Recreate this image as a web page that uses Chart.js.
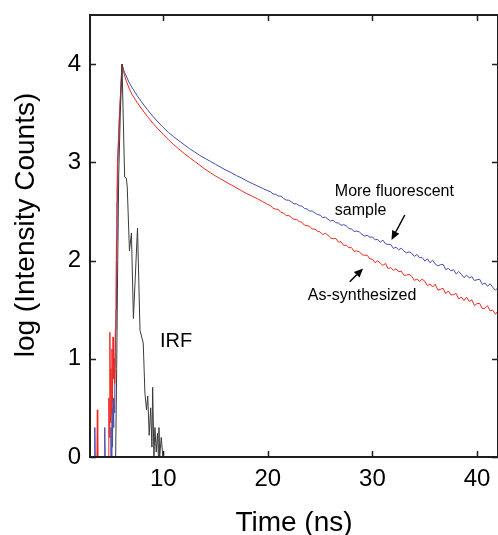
<!DOCTYPE html>
<html>
<head>
<meta charset="utf-8">
<script src="https://cdn.jsdelivr.net/npm/chart.js@4.4.1/dist/chart.umd.min.js"></script>
<style>
  html, body { margin: 0; padding: 0; background: #fff; }
  #wrap { width: 498px; height: 535px; }
</style>
</head>
<body>
<div id="wrap"><canvas id="chart" width="498" height="535"></canvas></div>
<script>
// rising edge (ns / log counts), noisy single-photon spikes before the pulse
const riseTimeBlue = [3.0, 3.42, 3.46, 3.50, 4.37, 4.41, 4.45, 4.96, 5.00, 5.04, 5.10, 5.15, 5.20, 5.25, 5.29, 5.33, 5.37, 5.43, 5.49, 5.54, 5.59, 5.64, 5.80]
const riseBlue = [0, 0, 0.3, 0, 0, 0.3, 0, 0, 0.3, 0, 0.5, 0.1, 0.6, 0.3, 0.6, 0.45, 0.7, 1.1, 1.5, 2.0, 2.6, 2.95, 3.42]
const riseTimeRed = [3.0, 3.66, 3.70, 3.74, 4.76, 4.80, 4.84, 4.90, 4.95, 5.00, 5.05, 5.10, 5.15, 5.20, 5.25, 5.30, 5.35, 5.42, 5.48, 5.53, 5.58, 5.63, 5.80]
const riseRed = [0, 0, 0.48, 0, 0, 0.6, 0.2, 1.27, 0.35, 0.9, 0.45, 1.1, 0.55, 1.22, 0.8, 1.0, 0.75, 1.3, 1.65, 2.2, 2.7, 3.0, 3.45]

// decay, peak to 20 ns
const decayTime = [6.06, 6.25, 6.5, 6.75, 7, 7.5, 8, 8.5, 9, 9.5, 10, 10.5, 11, 11.5, 12, 12.5, 13, 13.5, 14, 14.5, 15, 15.5, 16, 16.5, 17, 17.5, 18, 18.5, 19, 19.5, 20]
const decayBlue = [4.00, 3.93, 3.87, 3.81, 3.765, 3.68, 3.605, 3.535, 3.47, 3.41, 3.355, 3.305, 3.26, 3.22, 3.18, 3.14, 3.105, 3.07, 3.04, 3.01, 2.98, 2.95, 2.92, 2.895, 2.865, 2.84, 2.81, 2.785, 2.76, 2.735, 2.71]
const decayRed = [4.00, 3.90, 3.82, 3.75, 3.695, 3.61, 3.535, 3.465, 3.40, 3.34, 3.285, 3.23, 3.18, 3.135, 3.09, 3.05, 3.01, 2.97, 2.93, 2.895, 2.86, 2.83, 2.80, 2.77, 2.74, 2.71, 2.68, 2.655, 2.63, 2.60, 2.57]

// tail, one channel every 0.25 ns from 20.25 ns to 42 ns
const tailStart = 20.25
const tailStep = 0.25
const tailBlue = [
    2.702, 2.678, 2.674, 2.657, 2.656, 2.633, 2.616, 2.614, 2.598, 2.577, 2.578,
    2.558, 2.555, 2.530, 2.525, 2.504, 2.504, 2.485, 2.468, 2.463, 2.437, 2.442,
    2.421, 2.402, 2.412, 2.385, 2.382, 2.360, 2.364, 2.356, 2.325, 2.321, 2.296,
    2.300, 2.291, 2.266, 2.249, 2.257, 2.238, 2.240, 2.211, 2.215, 2.186, 2.208,
    2.170, 2.165, 2.163, 2.124, 2.135, 2.109, 2.126, 2.098, 2.077, 2.089, 2.074,
    2.042, 2.062, 2.030, 2.030, 1.996, 2.017, 1.978, 2.004, 1.965, 1.946, 1.957,
    1.962, 1.908, 1.920, 1.895, 1.907, 1.863, 1.889, 1.860, 1.826, 1.852, 1.823,
    1.837, 1.796, 1.805, 1.809, 1.756, 1.772, 1.738, 1.764, 1.728, 1.698, 1.724
]
const tailRed = [
    2.561, 2.531, 2.524, 2.520, 2.490, 2.484, 2.457, 2.459, 2.440, 2.419, 2.420,
    2.397, 2.390, 2.360, 2.355, 2.348, 2.321, 2.321, 2.299, 2.291, 2.264, 2.279,
    2.257, 2.231, 2.222, 2.225, 2.188, 2.191, 2.153, 2.156, 2.131, 2.132, 2.093,
    2.098, 2.090, 2.060, 2.054, 2.054, 2.016, 2.015, 1.978, 1.998, 1.973, 1.951,
    1.970, 1.917, 1.929, 1.899, 1.918, 1.886, 1.893, 1.850, 1.851, 1.860, 1.841,
    1.798, 1.812, 1.787, 1.810, 1.791, 1.744, 1.761, 1.731, 1.760, 1.699, 1.707,
    1.718, 1.663, 1.690, 1.650, 1.653, 1.664, 1.609, 1.629, 1.592, 1.627, 1.584,
    1.601, 1.540, 1.563, 1.563, 1.511, 1.514, 1.540, 1.488, 1.496, 1.453, 1.488
]

// instrument response function
const irfTime = [5.45, 5.55, 5.65, 5.75, 5.9, 6.06, 6.31, 6.47, 6.56, 6.77, 6.96, 7.15, 7.54, 7.78, 8.09, 8.25, 8.40, 8.52, 8.66, 8.80, 8.92, 8.99, 9.11, 9.21, 9.33, 9.45, 9.54, 9.59, 9.66, 9.81, 9.97]
const irfCounts = [0, 0.9, 2.0, 2.9, 3.5, 4.0, 2.85, 2.84, 2.75, 2.10, 2.28, 1.41, 2.33, 1.29, 1.16, 0.65, 0.48, 0.62, 0.22, 0.50, 0.10, 0.71, 0, 0.30, 0.05, 0.24, 0, 0.30, 0, 0.20, 0]

const xTicks = [10, 20, 30, 40]
const yTicks = [0, 1, 2, 3, 4]

const FONT = '"Liberation Sans", Arial, Helvetica, sans-serif'

function toPoints(xs, ys) {
    return xs.map((x, i) => ({ x: x, y: ys[i] }))
}

const tailTime = tailBlue.map((_, i) => tailStart + tailStep * i)

const bluePoints = [].concat(toPoints(riseTimeBlue, riseBlue), toPoints(decayTime, decayBlue), toPoints(tailTime, tailBlue))
const redPoints = [].concat(toPoints(riseTimeRed, riseRed), toPoints(decayTime, decayRed), toPoints(tailTime, tailRed))
const irfPoints = toPoints(irfTime, irfCounts)

// text labels and arrows, in data units
const notes = [
    { text: 'More fluorescent', x: 26.4, y: 2.66, size: 16 },
    { text: 'sample', x: 26.4, y: 2.465, size: 16 },
    { text: 'As-synthesized', x: 23.82, y: 1.60, size: 16 },
    { text: 'IRF', x: 9.69, y: 1.124, size: 20 }
]
const arrows = [
    { from: [33.09, 2.464], to: [31.82, 2.21] },
    { from: [27.83, 1.785], to: [29.10, 1.92] }
]

// frame, inward ticks, axis titles and the annotations
const framePlugin = {
    id: 'framePlugin',
    afterDraw(chart) {
        const { ctx, chartArea: a, scales } = chart
        const xs = scales.x, ys = scales.y
        ctx.save()
        ctx.strokeStyle = '#1e1e1e'
        ctx.lineWidth = 2
        ctx.strokeRect(a.left, a.top, a.right - a.left, a.bottom - a.top)

        ctx.lineWidth = 1.5
        ctx.beginPath()
        xTicks.forEach(v => {
            const px = Math.round(xs.getPixelForValue(v)) + 0.5
            ctx.moveTo(px, a.bottom); ctx.lineTo(px, a.bottom - 6)
            ctx.moveTo(px, a.top); ctx.lineTo(px, a.top + 6)
        })
        yTicks.forEach(v => {
            const py = Math.round(ys.getPixelForValue(v)) + 0.5
            ctx.moveTo(a.left, py); ctx.lineTo(a.left + 6, py)
            ctx.moveTo(a.right, py); ctx.lineTo(a.right - 6, py)
        })
        ctx.stroke()

        // axis titles
        ctx.fillStyle = '#000'
        ctx.font = '28px ' + FONT
        ctx.textAlign = 'center'
        ctx.textBaseline = 'alphabetic'
        ctx.fillText('Time (ns)', (a.left + a.right) / 2, 531)
        ctx.save()
        ctx.translate(34, 225)
        ctx.rotate(-Math.PI / 2)
        ctx.fillText('log (Intensity Counts)', 0, 0)
        ctx.restore()

        // notes
        ctx.textAlign = 'left'
        notes.forEach(n => {
            ctx.font = n.size + 'px ' + FONT
            ctx.fillText(n.text, xs.getPixelForValue(n.x), ys.getPixelForValue(n.y))
        })

        ctx.strokeStyle = '#000'
        ctx.lineWidth = 1.5
        arrows.forEach(ar => {
            const x0 = xs.getPixelForValue(ar.from[0]), y0 = ys.getPixelForValue(ar.from[1])
            const x1 = xs.getPixelForValue(ar.to[0]), y1 = ys.getPixelForValue(ar.to[1])
            const ang = Math.atan2(y1 - y0, x1 - x0)
            const head = 9, half = 4
            const bx = x1 - head * Math.cos(ang), by = y1 - head * Math.sin(ang)
            ctx.beginPath()
            ctx.moveTo(x0, y0); ctx.lineTo(bx, by)
            ctx.stroke()
            ctx.beginPath()
            ctx.moveTo(x1, y1)
            ctx.lineTo(bx + half * Math.sin(ang), by - half * Math.cos(ang))
            ctx.lineTo(bx - half * Math.sin(ang), by + half * Math.cos(ang))
            ctx.closePath()
            ctx.fill()
        })
        ctx.restore()
    }
}

const lineStyle = { borderWidth: 1, pointRadius: 0, tension: 0, fill: false }

const ctx = document.getElementById('chart').getContext('2d')
new Chart(ctx, {
    type: 'line',
    data: {
        datasets: [
            Object.assign({ label: 'IRF', data: irfPoints, borderColor: '#3a3a3a' }, lineStyle),
            Object.assign({ label: 'As-synthesized', data: redPoints, borderColor: 'rgb(238,40,34)' }, lineStyle),
            Object.assign({ label: 'More fluorescent sample', data: bluePoints, borderColor: 'rgb(66,76,172)' }, lineStyle)
        ]
    },
    options: {
        responsive: false,
        animation: false,
        events: [],
        layout: { padding: { top: 15, right: 0, left: 0, bottom: 0 } },
        plugins: { legend: { display: false }, tooltip: { enabled: false } },
        scales: {
            x: {
                type: 'linear',
                min: 3,
                max: 42,
                grid: { display: false, drawTicks: false },
                border: { display: false },
                ticks: { color: '#000', font: { family: FONT, size: 24 }, padding: 8, maxRotation: 0 },
                afterBuildTicks: s => { s.ticks = xTicks.map(v => ({ value: v })) },
                afterFit: s => { s.height = 78; s.paddingLeft = 0; s.paddingRight = 0 }
            },
            y: {
                type: 'linear',
                min: 0,
                max: 4.5,
                grid: { display: false, drawTicks: false },
                border: { display: false },
                ticks: { color: '#000', font: { family: FONT, size: 24 }, padding: 9 },
                afterBuildTicks: s => { s.ticks = yTicks.map(v => ({ value: v })) },
                afterFit: s => { s.width = 90; s.paddingTop = 0; s.paddingBottom = 0 }
            }
        }
    },
    plugins: [framePlugin]
})
</script>
</body>
</html>
